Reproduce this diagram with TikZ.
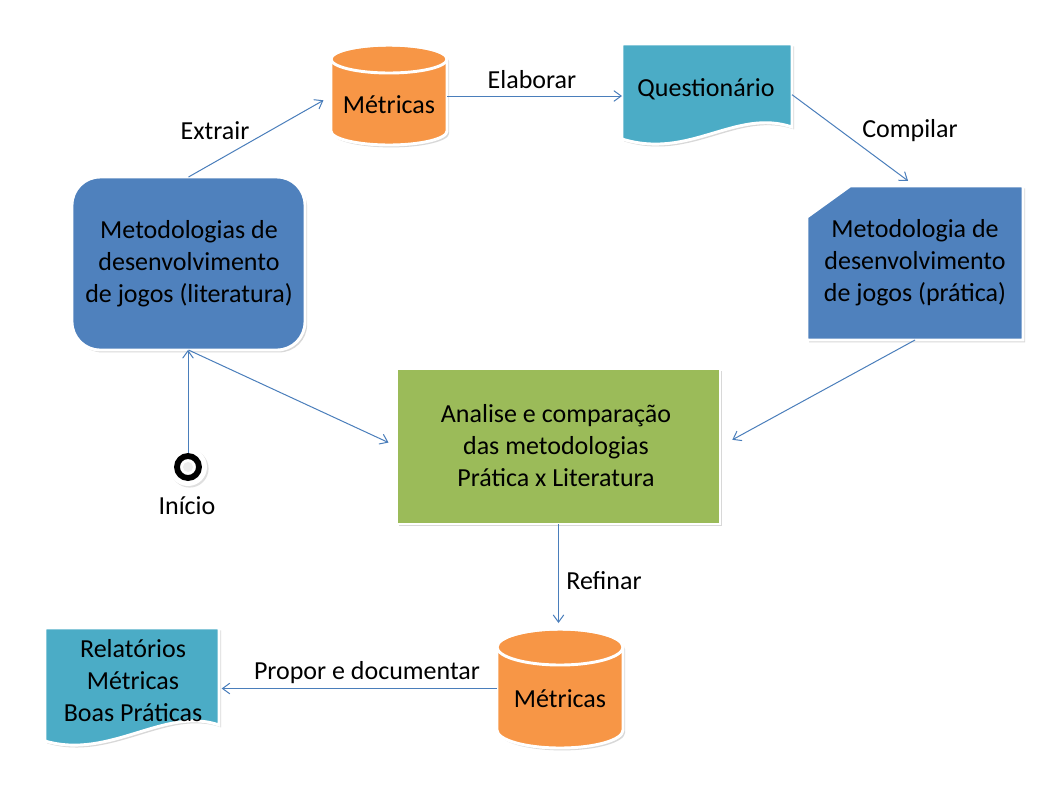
\documentclass[tikz,border=0pt]{standalone}
\usepackage{fontspec}
\setmainfont{Carlito}
\usetikzlibrary{arrows.meta,shadows,calc,fit}
\definecolor{corange}{HTML}{F79646}
\definecolor{cteal}{HTML}{4BACC6}
\definecolor{cblue}{HTML}{4F81BD}
\definecolor{cgreen}{HTML}{9BBB59}
\definecolor{arrowc}{HTML}{4A7EBB}
\newcommand\mycyl[5]{%
  \path[shp, fill=corange] ({#1-#4},#2) -- ({#1-#4},#3)
    .. controls ({#1-#4},{#3+0.5523*#5}) and ({#1-0.5523*#4},{#3+#5}) .. (#1,{#3+#5})
    .. controls ({#1+0.5523*#4},{#3+#5}) and ({#1+#4},{#3+0.5523*#5}) .. ({#1+#4},#3)
    -- ({#1+#4},#2)
    .. controls ({#1+#4},{#2-0.5523*#5}) and ({#1+0.5523*#4},{#2-#5}) .. (#1,{#2-#5})
    .. controls ({#1-0.5523*#4},{#2-#5}) and ({#1-#4},{#2-0.5523*#5}) .. ({#1-#4},#2) -- cycle;
  \draw[draw=white, line width=2.2pt] (#1,#2) ellipse [x radius=#4, y radius=#5];
}
\begin{document}
\begin{tikzpicture}[x=0.75pt,y=-0.75pt,
  shp/.style={draw=white, line width=2.2pt, drop shadow={shadow xshift=1.6pt,shadow yshift=-1.8pt,opacity=0.3}},
  txt/.style={font=\fontsize{19.5}{24}\selectfont, align=center, inner sep=0pt, text=black},
  lbl/.style={font=\fontsize{19.5}{24}\selectfont, inner sep=0pt, text=black},
  bbox/.style={inner sep=0pt, outer sep=0pt},
  conn/.style={draw=arrowc, line width=0.75pt, -{Straight Barb[length=5.5pt,width=8pt]}}]
\useasboundingbox (0,0) rectangle (1060,790);
\fill[white] (0,0) rectangle (1060,790);

% Rounded rectangle (literatura)
\path[shp, fill=cblue, rounded corners=21pt] (72,177) rectangle (305,350);
\node[bbox, fit={(72,177) (305,350)}] (lit) {};
\node[txt] (litt) at (189,264) {Metodologias de\\desenvolvimento\\de jogos (literatura)};

% Top cylinder
\mycyl{389}{59}{131}{58}{14}
\node[bbox, fit={(331,45) (447,147)}] (m1) {};
\node[txt] (m1t) at (389,105) {Métricas};

% Questionario document
\path[shp, fill=cteal] (622,44) -- (792,44) -- (792,127)
  .. controls (735,108) and (690,160) .. (622,139) -- cycle;
\node[bbox, fit={(622,44) (792,140)}] (q) {};
\node[txt] (qt) at (706,89) {Questionário};

% Snip corner rectangle (pratica)
\path[shp, fill=cblue] (850,186) -- (1023,186) -- (1023,340) -- (807,340) -- (807,217) -- cycle;
\node[bbox, fit={(807,186) (1023,340)}] (snip) {};
\node[txt] (snipt) at (915,263) {Metodologia de\\desenvolvimento\\de jogos (prática)};

% Green rectangle
\path[shp, fill=cgreen] (397,369) rectangle (720,524);
\node[bbox, fit={(397,369) (720,524)}] (green) {};
\node[txt] (greent) at (556,446) {Analise e comparação\\das metodologias\\Prática x Literatura};

% Bottom cylinder
\mycyl{560}{647}{730}{63}{18}
\node[bbox, fit={(497,629) (623,748)}] (m2) {};
\node[txt] (m2t) at (560,699) {Métricas};

% Bottom document
\path[shp, fill=cteal] (45,628) -- (219,628) -- (219,725)
  .. controls (165,706) and (110,760) .. (45,741) -- cycle;
\node[bbox, fit={(45,628) (219,741)}] (doc) {};
\node[txt] (doct) at (133,681) {Relatórios\\Métricas\\Boas Práticas};

% Start circle
\fill[white, drop shadow={shadow xshift=1.2pt,shadow yshift=-1.2pt,opacity=0.25}] (188,467) circle (19);
\node[circle, minimum size=21pt, inner sep=0pt] (start) at (188,467) {};
\fill[black!7] (188,467) circle (5);
\draw[black, line width=4.4pt] (188,467) circle (11);
\node[lbl] (inicio) at (187,506) {Início};

% Connectors
\draw[conn, shorten >=6.5pt] (lit.north) -- (m1.west);
\draw[conn] (m1.east) -- (m1.east -| q.west);
\draw[conn, shorten >=6.5pt] ([yshift=-2pt]q.east) -- (snip.north);
\draw[conn, shorten >=10.5pt] (snip.south) -- (green.east);
\draw[conn, shorten >=7pt] (lit.south) -- (green.west);
\draw[conn] (start.north) -- (start.north |- lit.south);
\draw[conn, shorten >=4.5pt] (green.south) -- (green.south |- m2.north);
\draw[conn, shorten >=2pt] (m2.west) -- (m2.west -| doc.east);

% Labels
\node[lbl] (lextrair) at (215,131) {Extrair};
\node[lbl] (lelab) at (532,80) {Elaborar};
\node[lbl] (lcomp) at (910,131) {Compilar};
\node[lbl] (lref) at (604,581) {Refinar};
\node[lbl] (lprop) at (367,673) {Propor e documentar};
\end{tikzpicture}
\end{document}
